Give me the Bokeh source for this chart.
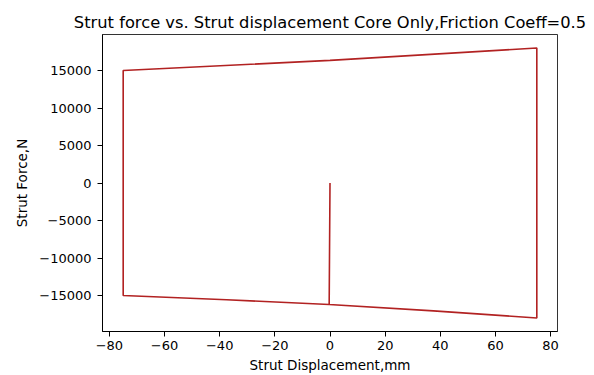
from bokeh.plotting import figure
from bokeh.models import Range1d, FixedTicker
from bokeh.embed import file_html
from bokeh.resources import INLINE

# Data
displacement = [0.0, -0.3, 37.5, 75.0, 75.0, 0.0, -75.0, -75.0, -37.5, -0.3]
force = [0.0, -16200, -17050, -18000, 18000, 16350, 15000, -15000, -15560, -16200]

x_ticks = [-80, -60, -40, -20, 0, 20, 40, 60, 80]
y_ticks = [-15000, -10000, -5000, 0, 5000, 10000, 15000]

title = "Strut force vs. Strut displacement Core Only,Friction Coeff=0.5"
x_label = "Strut Displacement,mm"
y_label = "Strut Force,N"

FONT = "DejaVu Sans"

p = figure(width=594, height=375, output_backend="svg", toolbar_location=None,
           x_range=Range1d(-82.5, 82.5), y_range=Range1d(-19800, 19800),
           min_border_left=102, min_border_right=37, min_border_top=34, min_border_bottom=44)

p.line(displacement, force, line_color="#b22222", line_width=1.6)

p.title.text = title
p.title.text_font = FONT
p.title.text_font_size = "16.3px"
p.title.text_font_style = "normal"
p.title.text_color = "black"
p.title.align = "center"
p.title.offset = 0
p.title.standoff = 5

p.grid.visible = False
p.outline_line_color = "black"
p.outline_line_width = 1
p.outline_line_alpha = 0.8

def fmt(v):
    return ("\u2212" + str(abs(v))) if v < 0 else str(v)

p.xaxis.ticker = FixedTicker(ticks=x_ticks)
p.yaxis.ticker = FixedTicker(ticks=y_ticks)
p.xaxis.major_label_overrides = {t: fmt(t) for t in x_ticks}
p.yaxis.major_label_overrides = {t: fmt(t) for t in y_ticks}

for ax in (p.xaxis[0], p.yaxis[0]):
    ax.axis_line_color = "black"
    ax.major_tick_line_color = "black"
    ax.major_tick_in = 0
    ax.major_tick_out = 5
    ax.minor_tick_line_color = None
    ax.major_label_text_font = FONT
    ax.major_label_text_font_size = "13px"
    ax.major_label_text_color = "black"
    ax.axis_label_text_font = FONT
    ax.axis_label_text_font_size = "13.5px"
    ax.axis_label_text_font_style = "normal"
    ax.axis_label_text_color = "black"

p.xaxis.major_label_standoff = 4
p.xaxis.axis_label_standoff = 4
p.yaxis.major_label_standoff = 6
p.yaxis.axis_label_standoff = 6

p.xaxis.axis_label = x_label
p.yaxis.axis_label = y_label
p.yaxis.major_label_orientation = "horizontal"

open("out.html", "w").write(file_html(p, INLINE))
